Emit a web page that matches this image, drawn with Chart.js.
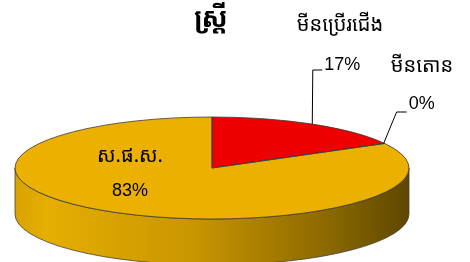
<!DOCTYPE html>
<html>
<head>
<meta charset="utf-8">
<script src="https://cdn.jsdelivr.net/npm/chart.js@4"></script>
<style>
  html, body { margin: 0; padding: 0; background: #fff; }
  #pie { display: block; }
</style>
</head>
<body>
<canvas id="pie" width="470" height="262"></canvas>
<script>
// Chart data
const categories = ['មីនប្រើរជើង', 'មីនតោន', 'ស.ផ.ស.'];
const shares = [17, 0, 83];
const sliceColors = ['#EE0000', '#4472C4', '#EBB000'];
const titleText = 'ស្ត្រី';

// where the tilted pie sits on the page
const CX = 212, CY = 168, RX = 197, RY = 51, DEPTH = 46;
const khmerFont = '"Noto Sans Khmer", "Khmer OS", "Khmer OS System", "DejaVu Sans", sans-serif';
const numFont = '"Liberation Sans", Arial, sans-serif';

function ePoint(a, dy) {
    return { x: CX + RX * Math.cos(a), y: CY + (dy || 0) + RY * Math.sin(a) };
}

// draws the side wall, then squashes the pie into an ellipse
const tiltPlugin = {
    id: 'tilt',
    beforeDatasetsDraw(chart) {
        const ctx = chart.ctx;
        const arcs = chart.getDatasetMeta(0).data;
        const grad = ctx.createLinearGradient(CX - RX, 0, CX + RX, 0);
        grad.addColorStop(0, '#D9A300');
        grad.addColorStop(0.08, '#E6AE00');
        grad.addColorStop(0.45, '#C89600');
        grad.addColorStop(0.8, '#8A6800');
        grad.addColorStop(1, '#5E4700');

        arcs.forEach((arc) => {
            const a1 = arc.startAngle, a2 = arc.endAngle;
            // only the front half (0..PI) of the rim is seen
            [-2, 0, 2].forEach((turn) => {
                const off = turn * Math.PI;
                const b1 = Math.max(a1, off), b2 = Math.min(a2, off + Math.PI);
                if (b2 - b1 < 1e-6) return;
                ctx.save();
                ctx.beginPath();
                ctx.ellipse(CX, CY, RX, RY, 0, b1, b2);
                ctx.ellipse(CX, CY + DEPTH, RX, RY, 0, b2, b1, true);
                ctx.closePath();
                ctx.fillStyle = grad;
                ctx.fill();
                ctx.lineWidth = 0.8;
                ctx.strokeStyle = '#4a4030';
                ctx.stroke();
                ctx.restore();
            });
        });

        const a0 = arcs[0];
        const k = a0.outerRadius;
        ctx.save();
        ctx.translate(CX, CY);
        ctx.scale(RX / k, RY / k);
        ctx.translate(-a0.x, -a0.y);
    },
    afterDatasetsDraw(chart) {
        const ctx = chart.ctx;
        ctx.restore();

        // outline of the top face
        const arcs = chart.getDatasetMeta(0).data;
        ctx.save();
        ctx.lineWidth = 0.8;
        ctx.strokeStyle = '#3a3a3a';
        ctx.beginPath();
        ctx.ellipse(CX, CY, RX, RY, 0, 0, Math.PI * 2);
        ctx.stroke();
        arcs.forEach((arc, i) => {
            if (shares[i] === 0) return;
            [arc.startAngle, arc.endAngle].forEach((a) => {
                const p = ePoint(a);
                ctx.beginPath();
                ctx.moveTo(CX, CY);
                ctx.lineTo(p.x, p.y);
                ctx.stroke();
            });
        });
        ctx.restore();
    },
    afterDraw(chart) {
        const ctx = chart.ctx;
        const arcs = chart.getDatasetMeta(0).data;
        ctx.save();
        ctx.fillStyle = '#000';
        ctx.textBaseline = 'middle';

        // title
        ctx.textAlign = 'center';
        ctx.font = 'bold 27px ' + khmerFont;
        ctx.fillText(titleText, 211, 19);

        // leader lines
        ctx.strokeStyle = '#000';
        ctx.lineWidth = 1;
        const mid0 = (arcs[0].startAngle + arcs[0].endAngle) / 2;
        const p0 = ePoint(mid0);
        ctx.beginPath();
        ctx.moveTo(p0.x, p0.y);
        ctx.lineTo(p0.x + 0.5, 70);
        ctx.lineTo(p0.x + 10, 70);
        ctx.stroke();

        const p1 = ePoint(arcs[1].startAngle);
        ctx.beginPath();
        ctx.moveTo(p1.x - 1, p1.y);
        ctx.lineTo(p1.x + 12, 112);
        ctx.lineTo(p1.x + 22, 112);
        ctx.stroke();

        // labels
        ctx.textAlign = 'left';
        ctx.font = '18px ' + numFont;
        ctx.fillText(shares[0] + '%', p0.x + 12, 65);
        ctx.fillText(shares[1] + '%', p1.x + 24, 104);

        ctx.textAlign = 'center';
        ctx.font = '20px ' + khmerFont;
        ctx.fillText(categories[0], 340, 25);
        ctx.fillText(categories[1], 422, 66);
        ctx.fillText(categories[2], 130, 156);
        ctx.font = '18px ' + numFont;
        ctx.fillText(shares[2] + '%', 130, 191);
        ctx.restore();
    }
};

const ctxPie = document.getElementById('pie').getContext('2d');
const pieChart = new Chart(ctxPie, {
    type: 'pie',
    data: {
        labels: categories,
        datasets: [{
            data: shares,
            backgroundColor: sliceColors,
            borderWidth: 0
        }]
    },
    options: {
        responsive: false,
        animation: false,
        events: [],
        layout: { padding: 0 },
        plugins: {
            legend: { display: false },
            tooltip: { enabled: false },
            title: { display: false }
        }
    },
    plugins: [tiltPlugin]
});
</script>
</body>
</html>
